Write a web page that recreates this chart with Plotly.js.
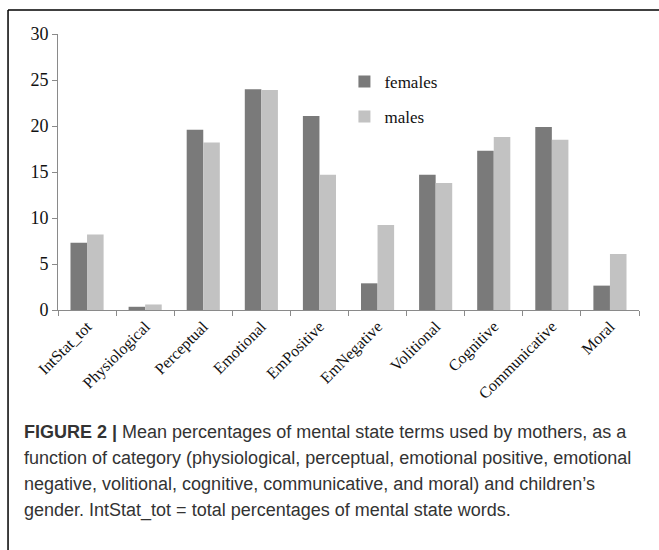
<!DOCTYPE html>
<html>
<head>
<meta charset="utf-8">
<script src="https://cdn.plot.ly/plotly-3.0.1.min.js"></script>
<style>
  html, body { margin: 0; padding: 0; background: #fff; }
  #chart { width: 659px; height: 550px; }
</style>
</head>
<body>
<div id="chart"></div>
<script>
const categories = ["IntStat_tot", "Physiological", "Perceptual", "Emotional", "EmPositive",
                    "EmNegative", "Volitional", "Cognitive", "Communicative", "Moral"];
const females = [7.3, 0.35, 19.6, 24.0, 21.1, 2.9, 14.7, 17.3, 19.9, 2.65];
const males   = [8.2, 0.6, 18.2, 23.9, 14.7, 9.25, 13.8, 18.8, 18.5, 6.1];
const seriesNames = ["females", "males"];
const yTicks = [0, 5, 10, 15, 20, 25, 30];
const captionLines = [
  "<b>FIGURE 2 |</b> Mean percentages of mental state terms used by mothers, as a",
  "function of category (physiological, perceptual, emotional positive, emotional",
  "negative, volitional, cognitive, communicative, and moral) and children’s",
  "gender. IntStat_tot = total percentages of mental state words."
];

const serif = "Liberation Serif, Times New Roman, serif";
const sans = "Liberation Sans, Arial, sans-serif";

const traces = [
  { type: "bar", name: seriesNames[0], x: categories, y: females,
    marker: { color: "#7a7a7a" }, legend: "legend", hoverinfo: "x+y" },
  { type: "bar", name: seriesNames[1], x: categories, y: males,
    marker: { color: "#c2c2c2" }, legend: "legend2", hoverinfo: "x+y" }
];

// plot area: x 58..639 px, y 34..310 px
const plotTop = 34, plotBottom = 310;
const toPaperY = py => (plotBottom - py) / (plotBottom - plotTop);
const captionY = [432, 458, 484, 510];

const layout = {
  width: 659, height: 550,
  margin: { l: 58, r: 20, t: plotTop, b: 550 - plotBottom },
  paper_bgcolor: "#fff", plot_bgcolor: "#fff",
  barmode: "group", bargap: 0.43, bargroupgap: 0,
  showlegend: true,
  legend: { x: 0.493, y: toPaperY(82), xanchor: "left", yanchor: "middle",
            font: { family: serif, size: 17, color: "#111" }, bgcolor: "rgba(0,0,0,0)" },
  legend2: { x: 0.493, y: toPaperY(117), xanchor: "left", yanchor: "middle",
             font: { family: serif, size: 17, color: "#111" }, bgcolor: "rgba(0,0,0,0)" },
  xaxis: {
    type: "category", tickangle: -45, tickson: "boundaries",
    ticks: "outside", ticklen: 5, tickcolor: "#8a8a8a", tickwidth: 1,
    showline: true, linecolor: "#8a8a8a", linewidth: 1,
    showgrid: false, zeroline: false,
    tickfont: { family: serif, size: 16, color: "#111" }
  },
  yaxis: {
    range: [0, 30], tickvals: yTicks, ticktext: yTicks.map(String),
    ticks: "outside", ticklen: 5, tickcolor: "#8a8a8a", tickwidth: 1,
    showline: true, linecolor: "#8a8a8a", linewidth: 1,
    showgrid: false, zeroline: false,
    tickfont: { family: serif, size: 18, color: "#111" }
  },
  shapes: [
    { type: "line", xref: "paper", yref: "paper", x0: -0.086, x1: 1.04, y0: toPaperY(10), y1: toPaperY(10),
      line: { color: "#000", width: 1.5 } },
    { type: "line", xref: "paper", yref: "paper", x0: -0.086, x1: -0.086, y0: toPaperY(10), y1: toPaperY(560),
      line: { color: "#000", width: 1.5 } }
  ],
  annotations: captionLines.map((t, i) => ({
    xref: "paper", yref: "paper", x: -0.062, y: toPaperY(captionY[i]),
    xanchor: "left", yanchor: "middle", align: "left", showarrow: false,
    text: t, font: { family: sans, size: 18, color: "#333" }
  }))
};

Plotly.newPlot("chart", traces, layout, { displayModeBar: false, staticPlot: true });
</script>
</body>
</html>
